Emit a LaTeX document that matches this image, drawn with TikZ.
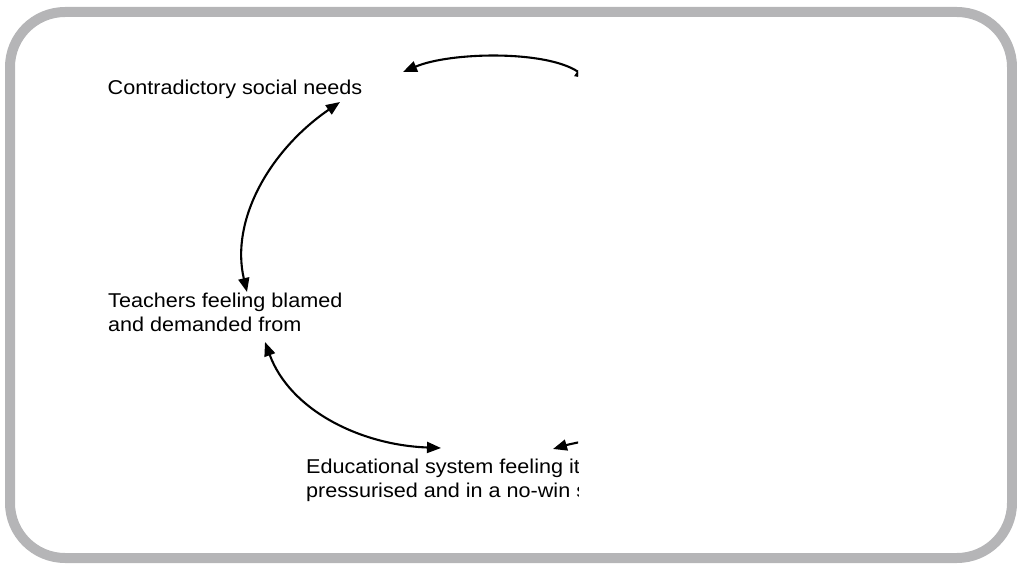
\documentclass[tikz,border=0pt]{standalone}
\usepackage{fontspec}
\setmainfont{Liberation Sans}[FakeStretch=1.08]
\usetikzlibrary{arrows.meta}
\definecolor{framegray}{RGB}{181,181,183}
\tikzset{
  lbl/.style={inner sep=0pt, align=left, anchor=base west, font=\fontsize{20}{24}\selectfont},
  link/.style={line width=2.1pt, {Triangle[length=14pt,width=11pt]}-{Triangle[length=14pt,width=11pt]}},
  frame/.style={draw=framegray, line width=10pt, rounded corners=55pt}
}
\begin{document}
\begin{tikzpicture}[x=1pt,y=-1pt]
\useasboundingbox (0,0) rectangle (1017,564);
\draw[frame] (10,12) rectangle (1012,558);
\begin{scope}
\clip (0,0) rectangle (578,564);
\node[lbl] (needs) at (107.5,94.5) {Contradictory social needs};
\node[lbl] (teach) at (108,331.5) {Teachers feeling blamed\\and demanded from};
\node[lbl] (edu) at (306,497.5) {Educational system feeling it\\pressurised and in a no-win situation};
\coordinate (topL) at (403,72);
\coordinate (topR) at (589,79);
\coordinate (needsA) at (340,102);
\coordinate (teachA) at (247,292);
\coordinate (teachB) at (265,342);
\coordinate (eduA) at (441,448);
\coordinate (eduB) at (553,449);
\coordinate (eduC) at (610,436);
\draw[link] (topL) .. controls (450,52) and (545,50) .. (topR);
\draw[link] (needsA) .. controls (270,150) and (230,220) .. (teachA);
\draw[link] (teachB) .. controls (290,410) and (360,445) .. (eduA);
\draw[link] (eduB) .. controls (570,444) and (590,440) .. (eduC);
\end{scope}
\end{tikzpicture}
\end{document}
